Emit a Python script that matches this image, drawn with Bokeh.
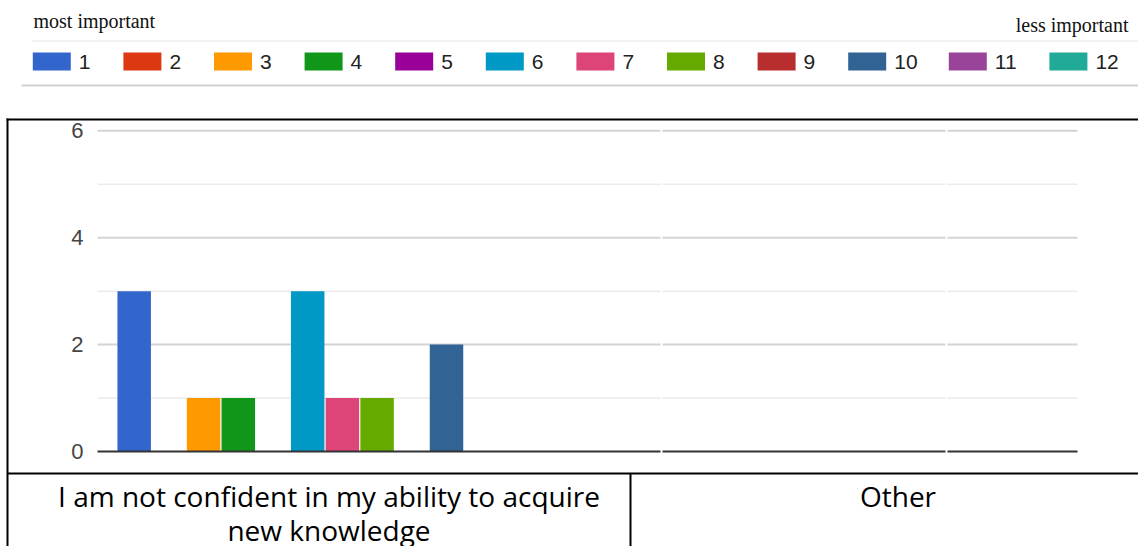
import textwrap

from bokeh.core.properties import value
from bokeh.embed import file_html
from bokeh.models import FixedTicker, LinearAxis, Range1d
from bokeh.plotting import figure
from bokeh.resources import INLINE

# ---------------------------------------------------------------- data
categories = ["I am not confident in my ability to acquire new knowledge", "Other"]
ranks = ["1", "2", "3", "4", "5", "6", "7", "8", "9", "10", "11", "12"]
rank_colors = ["#3366cc", "#dc3912", "#ff9900", "#109618", "#990099", "#0099c6",
               "#dd4477", "#66aa00", "#b82e2e", "#316395", "#994499", "#22aa99"]
counts_not_confident = [3, 0, 1, 1, 0, 3, 1, 1, 0, 2, 0, 0]
counts_other = [0, 0, 0, 0, 0, 0, 0, 0, 0, 0, 0, 0]
y_ticks = [0, 2, 4, 6]
y_max = 6
scale_left = "most important"
scale_right = "less important"

# ---------------------------------------------------------------- page geometry (px)
W, H = 1138, 546
PLOT_L, PLOT_R = 97, 1077          # chart plotting area
ZERO_PX, UNIT_PX = 451, 53.45      # baseline position and pixels per count
FIRST_BAR_PX, SLOT_PX = 133.7, 34.7
GROUP_SLOTS = 16                   # slots between the start of two category groups
BOX_L, BOX_TOP, TABLE_TOP, COL_SPLIT = 7, 119, 473, 630
BASELINE_FIX = 0.35                # svg text sits this many em lower than its baseline


def base_y(y, size):
    """y to hand to a text glyph so its alphabetic baseline lands on y."""
    return y - BASELINE_FIX * size


p = figure(width=W, height=H,
           x_range=Range1d(0, W), y_range=Range1d(H, 0),
           x_axis_type=None, y_axis_type=None,
           toolbar_location=None, output_backend="svg",
           min_border=0, outline_line_color=None,
           background_fill_color="white", border_fill_color="white")

# scales for the bar chart: one slot per rank, counts on the vertical
p.extra_x_ranges = {"slot": Range1d(1 - FIRST_BAR_PX / SLOT_PX,
                                    1 + (W - FIRST_BAR_PX) / SLOT_PX)}
p.extra_y_ranges = {"count": Range1d(-(H - ZERO_PX) / UNIT_PX, ZERO_PX / UNIT_PX)}

# ---------------------------------------------------------------- header: scale words + legend
p.text(x=[33], y=[base_y(27, 20)], text=[scale_left], text_font=value("Liberation Serif"),
       text_font_size="20px", text_color="#111111", text_baseline="alphabetic")
p.text(x=[1128], y=[base_y(31, 20)], text=[scale_right], text_font=value("Liberation Serif"),
       text_font_size="20px", text_color="#111111", text_baseline="alphabetic",
       text_align="right")
p.segment(x0=[31], y0=[40.5], x1=[W], y1=[40.5], line_color="#ececec", line_width=1.5)
p.segment(x0=[21], y0=[85], x1=[W], y1=[85], line_color="#d2d2d2", line_width=2)

sw_left, sw_right, lab_x = [], [], []
x = 32.3
for lab in ranks:
    sw_left.append(x)
    sw_right.append(x + 38)
    lab_x.append(x + 46)
    x += 90.6 + 10 * (len(lab) - 1)
p.quad(left=sw_left, right=sw_right, top=[52] * len(ranks), bottom=[70] * len(ranks),
       fill_color=rank_colors, line_color=None)
p.text(x=lab_x, y=[base_y(68.5, 21)] * len(ranks), text=ranks,
       text_font=value("Liberation Sans"),
       text_font_size="21px", text_color="#222222", text_baseline="alphabetic")

# ---------------------------------------------------------------- chart
pieces = [(PLOT_L, 660), (662, 945), (947, PLOT_R)]
for v in range(1, y_max + 1):
    major = v % 2 == 0
    p.segment(x0=[a for a, b in pieces], x1=[b for a, b in pieces],
              y0=[v] * 3, y1=[v] * 3, y_range_name="count",
              line_color="#d4d4d4" if major else "#ebebeb",
              line_width=2 if major else 1.5)

for g, counts in enumerate([counts_not_confident, counts_other]):
    slots = [g * GROUP_SLOTS + i + 1 for i in range(len(ranks))]
    p.vbar(x=slots, top=counts, bottom=0, width=0.965,
           x_range_name="slot", y_range_name="count",
           fill_color=rank_colors, line_color=None)

p.segment(x0=[a for a, b in pieces], x1=[b for a, b in pieces],
          y0=[0] * 3, y1=[0] * 3, y_range_name="count",
          line_color="#333333", line_width=2)

y_axis = LinearAxis(y_range_name="count", fixed_location=PLOT_L,
                    ticker=FixedTicker(ticks=y_ticks),
                    axis_line_color=None, major_tick_line_color=None,
                    minor_tick_line_color=None, major_label_standoff=8,
                    major_label_text_font="Liberation Sans",
                    major_label_text_font_size="22px",
                    major_label_text_color="#444444")
p.add_layout(y_axis, "left")

# ---------------------------------------------------------------- box and table
p.segment(x0=[BOX_L - 1, BOX_L, BOX_L, COL_SPLIT],
          y0=[BOX_TOP, BOX_TOP - 1, TABLE_TOP, TABLE_TOP],
          x1=[W, BOX_L, W, COL_SPLIT],
          y1=[BOX_TOP, H, TABLE_TOP, H],
          line_color="black", line_width=2)

col_bounds = [(BOX_L, COL_SPLIT), (COL_SPLIT, 1145)]
tx, ty, tt = [], [], []
for (a, b), cat in zip(col_bounds, categories):
    for k, line in enumerate(textwrap.wrap(cat, 43)):
        tx.append((a + b) / 2 + 10)
        ty.append(base_y(505 + 34 * k, 28))
        tt.append(line)
p.text(x=tx, y=ty, text=tt, text_font=value("Open Sans"), text_font_size="28px",
       text_color="#000000", text_align="center", text_baseline="alphabetic")

open("out.html", "w").write(file_html(p, INLINE))
